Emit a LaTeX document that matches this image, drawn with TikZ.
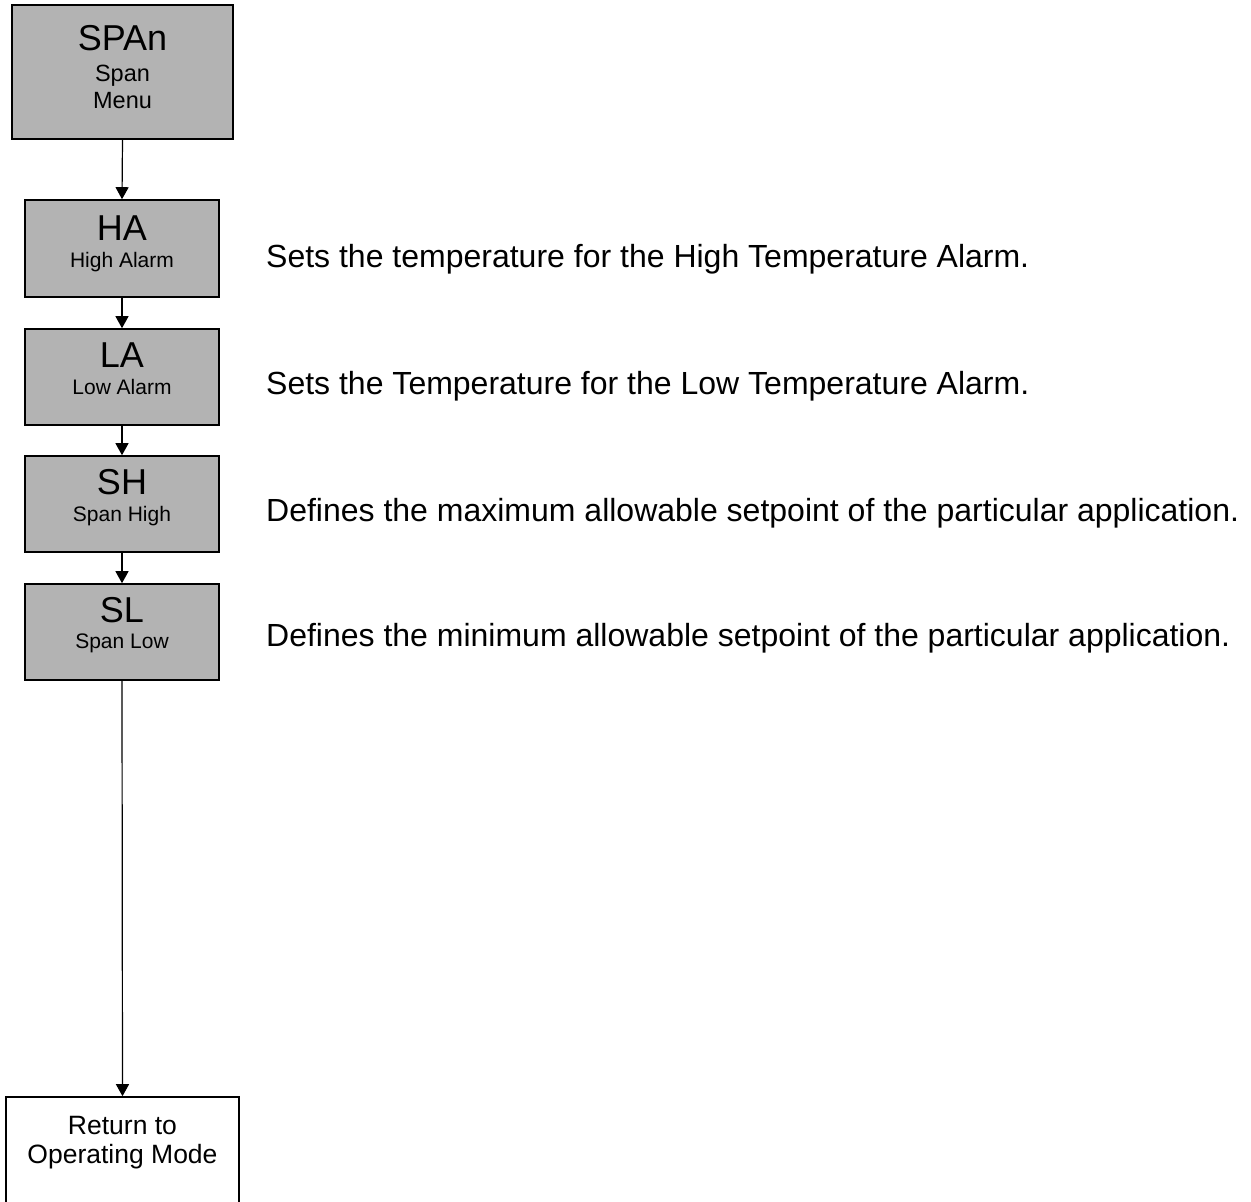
\documentclass[tikz,border=0pt]{standalone}
\usepackage{fontspec}
\setmainfont{Liberation Sans}
\usetikzlibrary{arrows.meta}
\definecolor{boxgray}{RGB}{179,179,179}
\tikzset{
  menubox/.style={draw=black, line width=1.6bp, fill=boxgray, rectangle, inner sep=0pt},
  endbox/.style={draw=black, line width=1.6bp, fill=white, rectangle, inner sep=0pt},
  flow/.style={draw=black, line width=1.2bp, -{Triangle[width=13bp,length=12bp]}},
  bigtxt/.style={anchor=base, inner sep=0pt, font=\fontsize{36bp}{40bp}\selectfont},
  subtxt/.style={anchor=base, inner sep=0pt, font=\fontsize{21bp}{24bp}\selectfont},
  menutxt/.style={anchor=base, inner sep=0pt, font=\fontsize{23.5bp}{27bp}\selectfont},
  rettxt/.style={anchor=base, inner sep=0pt, font=\fontsize{26.5bp}{30bp}\selectfont},
  desc/.style={anchor=base west, inner sep=0pt, font=\fontsize{32bp}{36bp}\selectfont}
}
\begin{document}
\begin{tikzpicture}[x=1bp, y=-1bp]
  \useasboundingbox (0,0) rectangle (1251,1202);
  \clip (0,0) rectangle (1251,1202);

  % menu boxes
  \node[menubox, minimum width=221bp, minimum height=134bp] (span) at (122.5,72) {};
  \node[menubox, minimum width=194bp, minimum height=97bp] (ha) at (122,248.5) {};
  \node[menubox, minimum width=194bp, minimum height=96bp] (la) at (122,377) {};
  \node[menubox, minimum width=194bp, minimum height=96bp] (sh) at (122,504) {};
  \node[menubox, minimum width=194bp, minimum height=96bp] (sl) at (122,632) {};
  % exit box runs past the lower edge
  \node[endbox, minimum width=233bp, minimum height=140bp] (ret) at (122.5,1167) {};

  % box captions
  \node[bigtxt] (spanA) at (122.5,50) {SPAn};
  \node[menutxt] (spanB) at (122.5,81.7) {Span};
  \node[menutxt] (spanC) at (122.5,108) {Menu};
  \node[bigtxt] (haA) at (122,240) {HA};
  \node[subtxt] (haB) at (122,267) {High Alarm};
  \node[bigtxt] (laA) at (122,367) {LA};
  \node[subtxt] (laB) at (122,394) {Low Alarm};
  \node[bigtxt] (shA) at (122,494) {SH};
  \node[subtxt] (shB) at (122,521) {Span High};
  \node[bigtxt] (slA) at (122,622) {SL};
  \node[subtxt] (slB) at (122,648) {Span Low};
  \node[rettxt] (retA) at (122.5,1134) {Return to};
  \node[rettxt] (retB) at (122.5,1163) {Operating Mode};

  % descriptions
  \node[desc] (dha) at (266,267) {Sets the temperature for the High Temperature Alarm.};
  \node[desc] (dla) at (266,394) {Sets the Temperature for the Low Temperature Alarm.};
  \node[desc] (dsh) at (266,521) {Defines the maximum allowable setpoint of the particular application.};
  \node[desc] (dsl) at (266,646) {Defines the minimum allowable setpoint of the particular application.};

  % connectors
  \draw[flow] (span.south) -- (ha.north);
  \draw[flow] (ha.south) -- (la.north);
  \draw[flow] (la.south) -- (sh.north);
  \draw[flow] (sh.south) -- (sl.north);
  \draw[flow] (sl.south) -- (ret.north);
\end{tikzpicture}
\end{document}
